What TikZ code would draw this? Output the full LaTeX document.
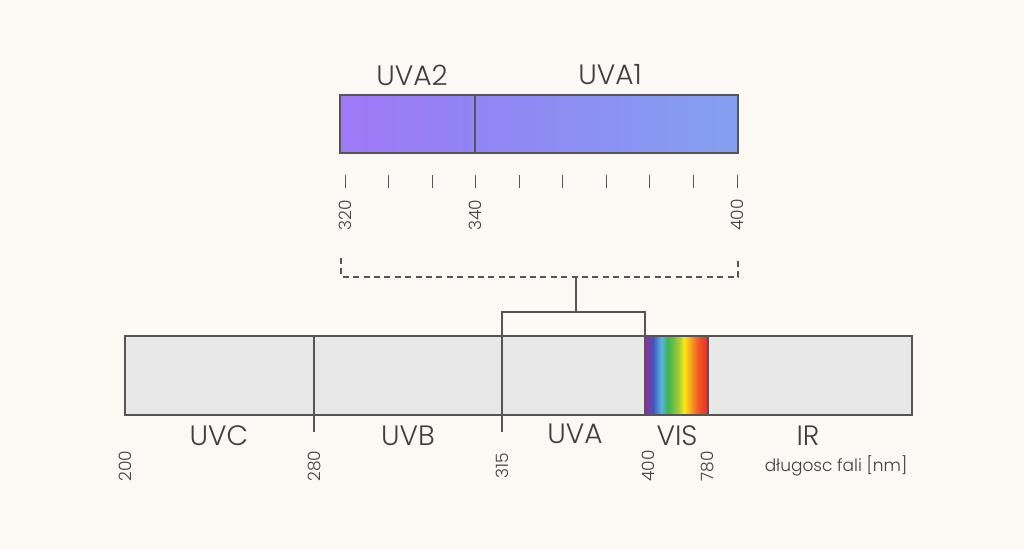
\documentclass[tikz,border=0pt]{standalone}
\usepackage{fontspec}
\setmainfont{Poppins}[UprightFont=* Light]
\definecolor{bg}{HTML}{FCF9F5}
\definecolor{ink}{HTML}{3F3F3F}
\definecolor{edge}{HTML}{555555}
\definecolor{barfill}{HTML}{E8E8E8}
\definecolor{uvl}{HTML}{A079F7}
\definecolor{uvm}{HTML}{9184F4}
\definecolor{uvr}{HTML}{84A0F0}
\definecolor{r1}{HTML}{9B2A9A}
\definecolor{r2}{HTML}{3F56B8}
\definecolor{r3}{HTML}{5BB0E5}
\definecolor{r4}{HTML}{3EB54A}
\definecolor{r5}{HTML}{A6CE39}
\definecolor{r6}{HTML}{FBEA14}
\definecolor{r7}{HTML}{F7A01E}
\definecolor{r8}{HTML}{F15A24}
\definecolor{r9}{HTML}{EC2A24}
\tikzset{
  lab/.style={text=ink, font=\fontsize{14}{14}\selectfont, inner sep=0pt},
  num/.style={text=ink, font=\fontsize{8.5}{8.5}\selectfont, rotate=90, inner sep=0pt},
  tickline/.style={draw=edge, line width=0.5pt},
  bracket/.style={draw=edge, line width=0.55pt},
  dbracket/.style={draw=edge, line width=0.55pt, dash pattern=on 3pt off 2.2pt},
  frame/.style={draw=edge, line width=0.55pt},
}
\begin{document}
\begin{tikzpicture}[x=0.5pt,y=-0.5pt]
\useasboundingbox[fill=bg] (0,0) rectangle (1024,550);
% ---------- top UVA bar ----------
\fill[left color=uvl, right color=uvm] (340,95) rectangle (475,153);
\fill[left color=uvm, right color=uvr] (475,95) rectangle (738,153);
\draw[frame] (340,95) rectangle (738,153);
\draw[frame] (475,95) -- (475,153);
\node[lab] (uva2) at (412,75) {UVA2};
\node[lab] (uva1) at (610,75) {UVA1};
% ticks
\foreach \i in {0,...,9} {
  \coordinate (tt\i) at ({345+\i*43.56},175);
  \coordinate (tb\i) at ({345+\i*43.56},188);
  \draw[tickline] (tt\i) -- (tb\i);
}
\node[num] (n320) at (345,215) {320};
\node[num] (n340) at (475,215) {340};
\node[num] (n400t) at (737,215) {400};
% dashed bracket
\coordinate (dl) at (341,258);
\coordinate (dr) at (738,258);
\coordinate (dbl) at (341,277);
\coordinate (dbr) at (738,277);
\coordinate (dm) at (576,277);
\draw[dbracket] (dl) -- (dbl) -- (dbr) -- (dr);
% solid bracket
\coordinate (sm) at (576,312);
\coordinate (sl) at (502,312);
\coordinate (sr) at (645,312);
\coordinate (slb) at (502,336);
\coordinate (srb) at (645,336);
\draw[bracket] (dm) -- (sm);
\draw[bracket] (slb) -- (sl) -- (sr) -- (srb);
% ---------- bottom spectrum bar ----------
\fill[barfill] (125,336) rectangle (912,415);
% rainbow
\fill[left color=r1, right color=r2] (645,336) rectangle (653,415);
\fill[left color=r2, right color=r3] (653,336) rectangle (661,415);
\fill[left color=r3, right color=r4] (661,336) rectangle (668,415);
\fill[left color=r4, right color=r5] (668,336) rectangle (679,415);
\fill[left color=r5, right color=r6] (679,336) rectangle (684,415);
\fill[left color=r6, right color=r7] (684,336) rectangle (691,415);
\fill[left color=r7, right color=r8] (691,336) rectangle (698,415);
\fill[left color=r8, right color=r9] (698,336) rectangle (708,415);
\draw[frame] (125,336) rectangle (912,415);
\draw[frame] (708,336) -- (708,415);
\draw[frame] (645,336) -- (645,415);
\coordinate (d1t) at (314,336);
\coordinate (d1b) at (314,432);
\coordinate (d2t) at (502,336);
\coordinate (d2b) at (502,432);
\draw[frame] (d1t) -- (d1b);
\draw[frame] (d2t) -- (d2b);
% band labels
\node[lab] (uvc) at (219,436) {UVC};
\node[lab] (uvb) at (408,436) {UVB};
\node[lab] (uva) at (575,434) {UVA};
\node[lab] (vis) at (677,436) {VIS};
\node[lab] (ir) at (808,436) {IR};
% wavelength numbers
\node[num] (n200) at (125,466) {200};
\node[num] (n280) at (314,466) {280};
\node[num] (n315) at (502,466) {315};
\node[num] (n400) at (648,466) {400};
\node[num] (n780) at (707,466) {780};
\node[text=ink, font=\fontsize{8.5}{8.5}\selectfont, inner sep=0pt] (unit) at (836,466) {długosc fali [nm]};
\end{tikzpicture}
\end{document}
